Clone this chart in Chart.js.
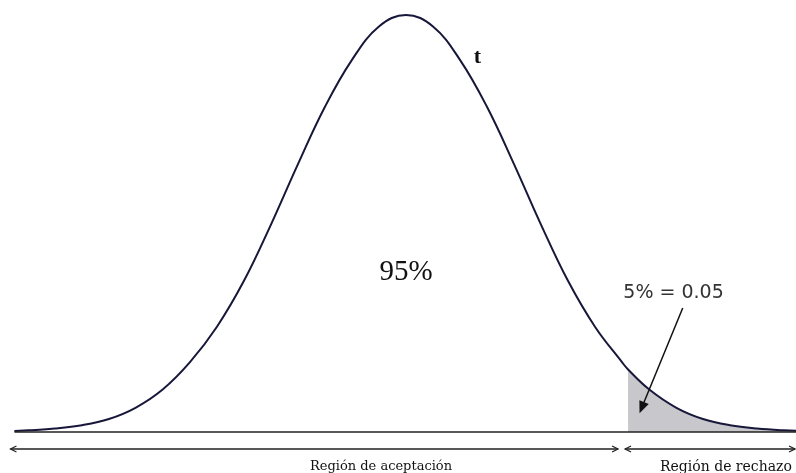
<!DOCTYPE html>
<html>
<head>
<meta charset="utf-8">
<script src="https://cdn.jsdelivr.net/npm/chart.js@4/dist/chart.umd.min.js"></script>
<style>
  body { margin: 0; background: #fff; }
</style>
</head>
<body>
<canvas id="tChart" width="796" height="473"></canvas>
<script>
// curve: t value and density
const tValues = [-2.9, -2.8, -2.6, -2.4, -2.2, -2.0, -1.8, -1.6, -1.4, -1.2, -1.0, -0.8, -0.6, -0.4, -0.2, 0.0,
                 0.2, 0.4, 0.6, 0.8, 1.0, 1.2, 1.4, 1.6, 1.645, 1.8, 2.0, 2.2, 2.4, 2.6, 2.8, 3.0];
const density = [0.001, 0.0016, 0.0033, 0.0065, 0.0125, 0.0235, 0.041, 0.067, 0.101, 0.145, 0.199, 0.257, 0.312, 0.357, 0.389, 0.400,
                 0.389, 0.357, 0.312, 0.257, 0.199, 0.145, 0.101, 0.067, 0.060, 0.041, 0.0235, 0.0125, 0.0065, 0.0033, 0.0016, 0.0007];
const critical = 1.645;
const xRange = [-3.007, 2.889];
const yMax = 0.4144;

const regionLabels = ['Región de aceptación', 'Región de rechazo'];
const centerLabel = '95%';
const tailLabel = '5% = 0.05';
const curveLabel = 't';

const curvePts = tValues.map((t, i) => ({ x: t, y: density[i] }));
const tailPts = curvePts.filter(p => p.x >= critical);

function chevron(ctx, x, y, dir) {
    ctx.beginPath();
    ctx.moveTo(x - dir * 6, y - 3);
    ctx.lineTo(x, y);
    ctx.lineTo(x - dir * 6, y + 3);
    ctx.stroke();
}

const annotations = {
    id: 'annotations',
    afterDraw(chart) {
        const ctx = chart.ctx;
        const xs = chart.scales.x, ys = chart.scales.y;
        const base = ys.getPixelForValue(0);
        const left = xs.getPixelForValue(tValues[0]);
        const right = chart.chartArea.right;
        const crit = xs.getPixelForValue(critical);
        ctx.save();

        // base line
        ctx.strokeStyle = '#222';
        ctx.lineWidth = 1.5;
        ctx.beginPath();
        ctx.moveTo(left, base);
        ctx.lineTo(right, base);
        ctx.stroke();

        // region arrows
        const ay = base + 17;
        ctx.lineWidth = 1.5;
        ctx.beginPath();
        ctx.moveTo(left - 4, ay);
        ctx.lineTo(crit - 10, ay);
        ctx.moveTo(crit - 3, ay);
        ctx.lineTo(right - 1, ay);
        ctx.stroke();
        ctx.lineWidth = 1.2;
        chevron(ctx, left - 4, ay, -1);
        chevron(ctx, crit - 10, ay, 1);
        chevron(ctx, crit - 3, ay, -1);
        chevron(ctx, right - 1, ay, 1);

        ctx.fillStyle = '#111';
        ctx.textAlign = 'center';
        ctx.textBaseline = 'middle';
        ctx.font = '13px "DejaVu Serif"';
        ctx.fillText(regionLabels[0], xs.getPixelForValue(-0.185), ay + 18);
        ctx.font = '14px "DejaVu Serif"';
        ctx.fillText(regionLabels[1], xs.getPixelForValue(2.37), ay + 18);

        // curve and centre labels
        ctx.font = '29px "Liberation Serif"';
        ctx.fillText(centerLabel, xs.getPixelForValue(0), ys.getPixelForValue(0.153));
        ctx.font = 'bold 22px "Liberation Serif"';
        ctx.fillText(curveLabel, xs.getPixelForValue(0.53), ys.getPixelForValue(0.359));

        ctx.fillStyle = '#333';
        ctx.font = '19px "DejaVu Sans"';
        ctx.textAlign = 'left';
        ctx.fillText(tailLabel, xs.getPixelForValue(1.61), ys.getPixelForValue(0.133));

        // pointer to the tail
        const x1 = xs.getPixelForValue(2.05), y1 = ys.getPixelForValue(0.119);
        const x2 = xs.getPixelForValue(1.73), y2 = ys.getPixelForValue(0.018);
        const ang = Math.atan2(y2 - y1, x2 - x1);
        ctx.strokeStyle = '#111';
        ctx.lineWidth = 1.5;
        ctx.beginPath();
        ctx.moveTo(x1, y1);
        ctx.lineTo(x2 - Math.cos(ang) * 8, y2 - Math.sin(ang) * 8);
        ctx.stroke();
        ctx.fillStyle = '#111';
        ctx.beginPath();
        ctx.moveTo(x2, y2);
        ctx.lineTo(x2 - Math.cos(ang - 0.4) * 13, y2 - Math.sin(ang - 0.4) * 13);
        ctx.lineTo(x2 - Math.cos(ang + 0.4) * 13, y2 - Math.sin(ang + 0.4) * 13);
        ctx.closePath();
        ctx.fill();

        ctx.restore();
    }
};

new Chart(document.getElementById('tChart'), {
    type: 'line',
    data: {
        datasets: [{
            label: 'cola',
            data: tailPts,
            borderWidth: 0,
            borderColor: 'rgba(0,0,0,0)',
            backgroundColor: '#c8c8cc',
            fill: 'origin',
            pointRadius: 0,
            tension: 0.4,
            order: 2
        }, {
            label: 't',
            data: curvePts,
            borderColor: '#17173a',
            borderWidth: 2,
            fill: false,
            pointRadius: 0,
            tension: 0.4,
            order: 1
        }]
    },
    options: {
        responsive: false,
        animation: false,
        devicePixelRatio: 1,
        layout: { padding: { left: 0, right: 0, top: 0, bottom: 41 } },
        plugins: { legend: { display: false }, tooltip: { enabled: false } },
        scales: {
            x: { type: 'linear', min: xRange[0], max: xRange[1], display: false },
            y: { min: 0, max: yMax, display: false }
        }
    },
    plugins: [annotations]
});
</script>
</body>
</html>
